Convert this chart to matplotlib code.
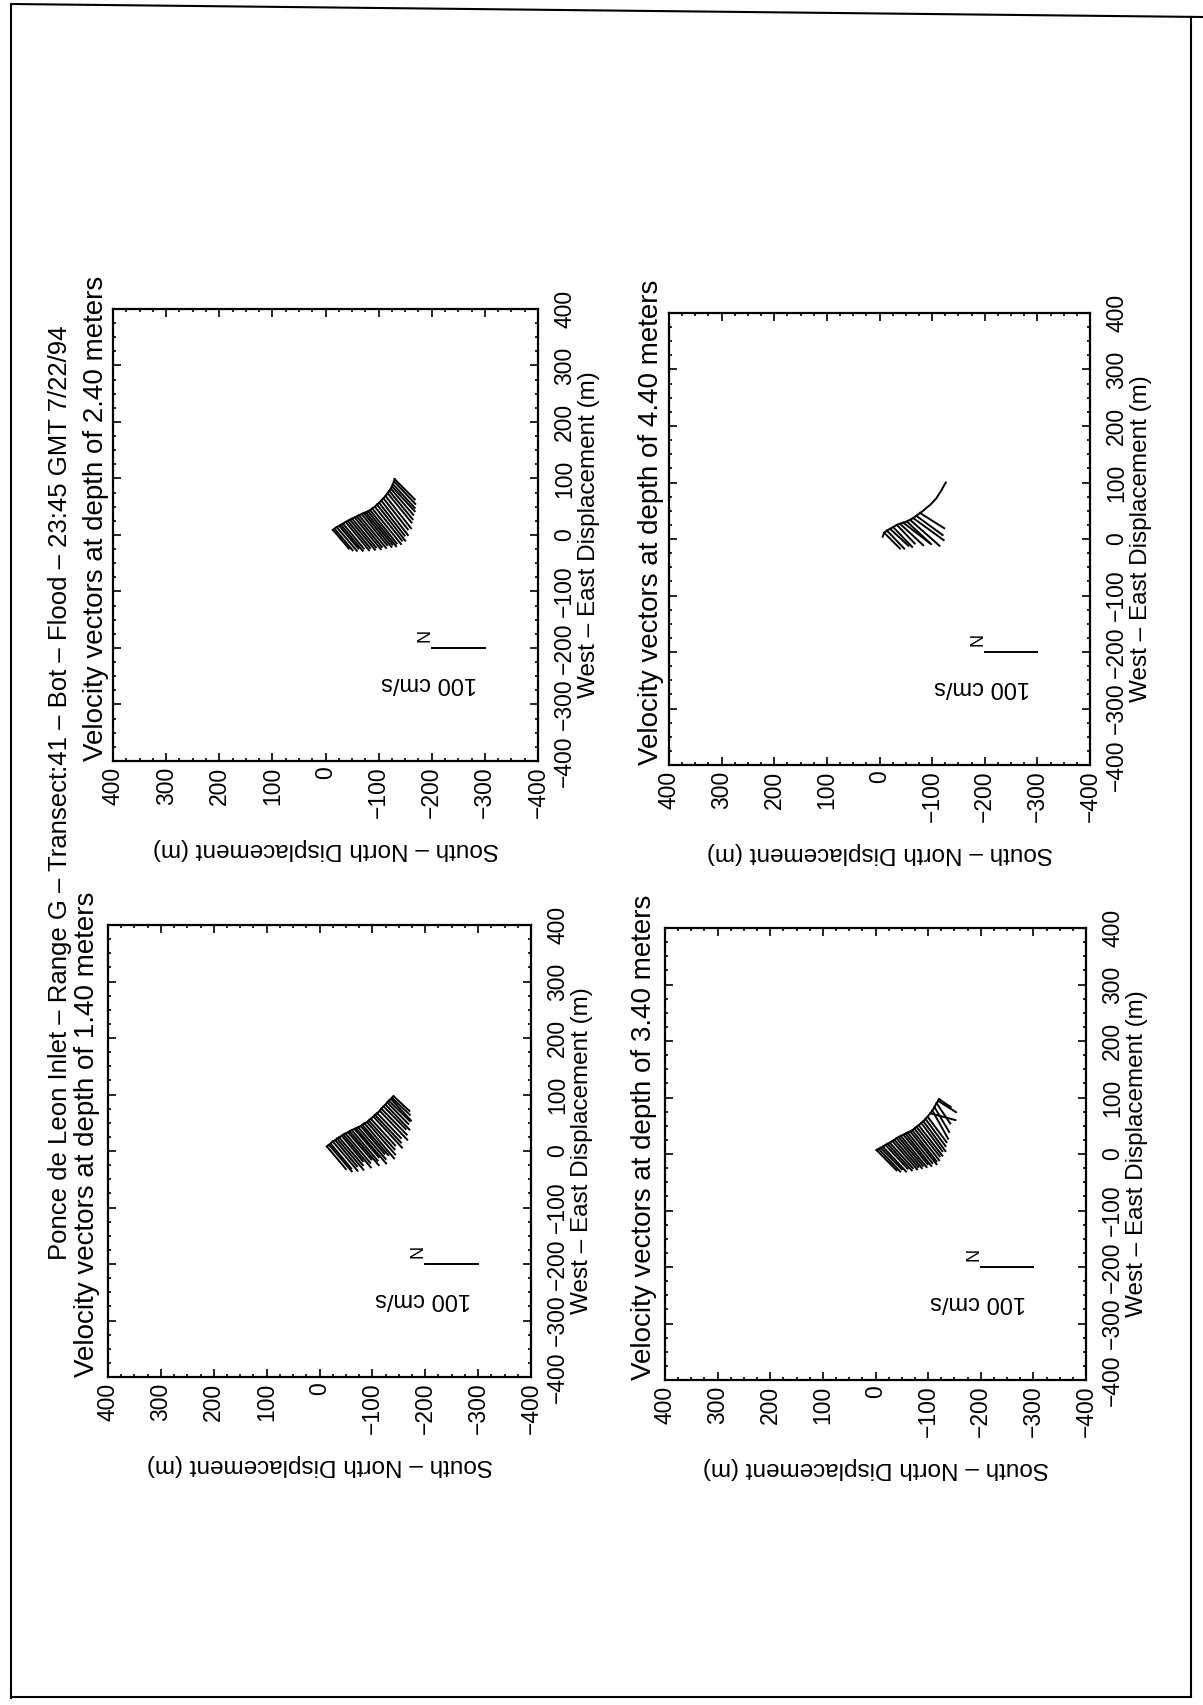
import numpy as np
import matplotlib

matplotlib.use("Agg")
import matplotlib.pyplot as plt  # noqa: E402
from matplotlib.lines import Line2D  # noqa: E402
from matplotlib.ticker import MultipleLocator  # noqa: E402

plt.rcParams["font.family"] = ["Liberation Sans", "DejaVu Sans"]

W, H, DPI = 1203, 1705, 100

TITLE = "Ponce de Leon Inlet – Range G – Transect:41 – Bot – Flood – 23:45 GMT 7/22/94"
TICKS = [-400, -300, -200, -100, 0, 100, 200, 300, 400]
nan = np.nan

# ship track (north / east displacement, m) and velocity (v north, u east, cm/s)
NORTH_140 = [-14, -18, -21, -25, -30, -33, -37, -42, -45, -49, -54, -57, -61, -66, -69, -73, -78,
             -81, -85, -90, -93, -97, -102, -105, -109, -114, -117, -121, -125, -128, -131, -135,
             -137, -140]
EAST_140 = [8, 11, 13, 17, 19, 22, 24, 27, 29, 31, 33, 35, 37, 39, 40, 42, 44, 46, 49, 51, 54, 57,
            61, 64, 67, 71, 75, 79, 82, 86, 89, 92, 94, 97]
U_140 = [-40, -47, -44, -52, -46, -55, -49, -45, -58, -52, -48, -60, -54, -50, -62, -56, -49, -53,
         -62, -57, -51, -47, -55, -49, -44, -51, -46, -40, -44, -38, -36, -38, -30, -26]
V_140 = [-36, -43, -39, -47, -41, -50, -45, -40, -52, -47, -44, -55, -49, -46, -57, -52, -45, -49,
         -56, -53, -49, -46, -54, -49, -45, -52, -48, -42, -45, -40, -40, -38, -34, -30]

NORTH_240 = [-14, -17, -21, -26, -29, -33, -38, -42, -46, -50, -55, -59, -63, -68, -72, -76, -80,
             -84, -88, -93, -97, -101, -105, -109, -113, -117, -120, -123, -125, -127, -129, -130]
EAST_240 = [9, 11, 14, 16, 18, 20, 23, 25, 27, 29, 31, 33, 35, 37, 39, 40, 42, 44, 47, 50, 54, 57,
            61, 65, 69, 74, 78, 82, 86, 90, 95, 99]
U_240 = [-33, -38, -42, -40, -46, -44, -50, -48, -53, -51, -56, -54, -58, -55, -60, -57, -62, -59,
         -63, -60, -64, -58, -61, -55, -57, -52, -50, -46, -44, -42, -40, -36]
V_240 = [-30, -34, -38, -36, -41, -39, -44, -42, -47, -45, -49, -47, -51, -48, -52, -50, -53, -50,
         -54, -51, -53, -48, -50, -46, -48, -45, -44, -42, -43, -41, -40, -38]

NORTH_340 = [-2, -6, -10, -14, -19, -23, -27, -32, -36, -40, -44, -48, -53, -57, -61, -66, -70, -74,
             -78, -82, -87, -91, -95, -99, -104, -108, -112, -116, -119, -121]
EAST_340 = [7, 9, 11, 13, 16, 18, 20, 23, 25, 28, 30, 32, 34, 36, 38, 40, 42, 45, 48, 51, 55, 58, 62,
            66, 72, 77, 83, 90, 94, 97]
U_340 = [-36, -40, -38, -44, -42, -47, -45, -50, -48, -53, -51, -55, -52, -57, -54, -58, -55, -56,
         -52, -54, -50, -53, -48, -45, -12, -50, -44, -36, -20, -14]
V_340 = [-38, -41, -40, -44, -42, -46, -44, -47, -45, -48, -46, -49, -46, -49, -47, -50, -46, -47,
         -44, -45, -40, -42, -38, -36, -48, -30, -28, -26, -34, -22]

NORTH_440 = [-6, -9, -14, -20, -26, -33, -39, -45, -52, -58, -64, -70, -77, -83, -89, -96, -102,
             -108, -112, -117, -121, -124, -126]
EAST_440 = [4, 11, 15, 18, 21, 25, 27, 29, 31, 34, 37, 41, 46, 50, 55, 60, 66, 72, 78, 85, 92, 97,
            100]
U_440 = [nan, -28, -32, -30, -35, -33, -38, -36, -40, -46, -39, -34, -27, nan, nan, nan, nan, nan,
         nan, nan, nan, nan, nan]
V_440 = [nan, -30, -33, -35, -36, -34, -44, -50, -46, -56, -58, -50, -46, nan, nan, nan, nan, nan,
         nan, nan, nan, nan, nan]

# (depth, data, axes box in px: left, top, right, bottom, title x in px)
PANELS = [
    ("1.40", (NORTH_140, EAST_140, V_140, U_140), (108, 925, 531, 1377), 87),
    ("2.40", (NORTH_240, EAST_240, V_240, U_240), (113, 309, 538, 761), 96),
    ("3.40", (NORTH_340, EAST_340, V_340, U_340), (665, 928, 1086, 1380), 644),
    ("4.40", (NORTH_440, EAST_440, V_440, U_440), (669, 313, 1090, 765), 651),
]


def fx(px):
    return px / W


def fy(py):
    return 1 - py / H


def draw_panel(fig, depth, data, box, title_x):
    l, t, r, b = box
    ax = fig.add_axes([fx(l), fy(b), (r - l) / W, (b - t) / H])
    north, east, v, u = data
    ax.plot(north, east, color="k", lw=1.4)
    for n, e, dv, du in zip(north, east, v, u):
        if np.isfinite(dv):
            ax.plot([n, n + dv], [e, e + du], color="k", lw=1.4)

    # 100 cm/s scale vector pointing north
    ax.plot([-200, -300], [-200, -200], color="k", lw=1.4)
    ax.text(-187, -177, "N", rotation=90, ha="center", va="center", fontsize=13)
    ax.text(-195, -262, "100 cm/s", rotation=180, ha="center", va="center", fontsize=17)

    ax.set_xlim(400, -400)
    ax.set_ylim(-400, 400)
    ax.set_xticks(TICKS)
    ax.set_yticks(TICKS)
    ax.xaxis.set_minor_locator(MultipleLocator(25))
    ax.yaxis.set_minor_locator(MultipleLocator(25))
    ax.tick_params(which="both", direction="in", top=True, bottom=True, left=True, right=True,
                   labelleft=False, labelright=True, width=1.2)
    ax.tick_params(which="major", length=5.5)
    ax.tick_params(which="minor", length=2.5)
    ax.tick_params(axis="x", labelrotation=90, labelsize=16.5, pad=4)
    ax.tick_params(axis="y", labelsize=16.5, pad=11)
    for lab in ax.get_yticklabels():
        lab.set_rotation(90)
        lab.set_va("center")
    for sp in ax.spines.values():
        sp.set_linewidth(1.6)

    fig.text(fx(title_x), fy(b), f"Velocity vectors at depth of {depth} meters",
             rotation=90, ha="center", va="bottom", fontsize=20)
    fig.text(fx(r + 51), fy((t + b) / 2), "West – East Displacement (m)",
             rotation=90, ha="center", va="center", fontsize=17.5)
    fig.text(fx((l + r) / 2), fy(b + 88), "South – North Displacement (m)",
             rotation=180, ha="center", va="center", fontsize=17.5)


def main():
    fig = plt.figure(figsize=(W / DPI, H / DPI), dpi=DPI)
    fig.patch.set_facecolor("white")

    # scanned page frame
    for (x0, y0), (x1, y1) in [((12, 4), (1203, 17)), ((11, 4), (11, 1698)),
                               ((11, 1697), (1191, 1697)), ((1191, 17), (1191, 1697))]:
        fig.add_artist(Line2D([fx(x0), fx(x1)], [fy(y0), fy(y1)],
                              transform=fig.transFigure, color="k", lw=1.5))

    fig.text(fx(60), fy(793), TITLE, rotation=90, ha="center", va="center", fontsize=18.5)

    for depth, data, box, title_x in PANELS:
        draw_panel(fig, depth, data, box, title_x)

    fig.savefig("out.png", dpi=DPI)
    plt.close(fig)


if __name__ == "__main__":
    main()
